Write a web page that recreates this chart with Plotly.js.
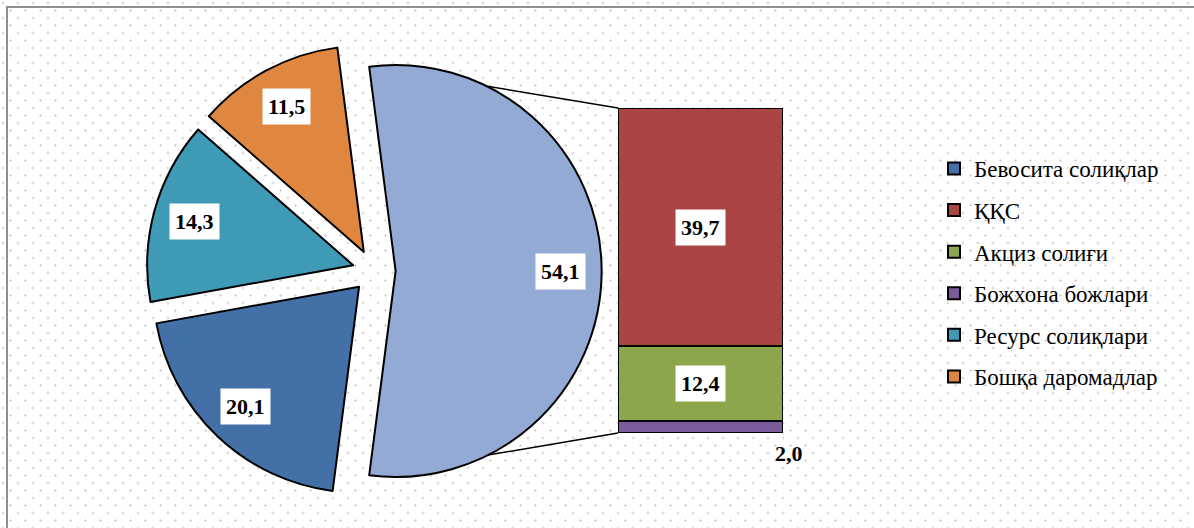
<!DOCTYPE html>
<html><head><meta charset="utf-8">
<script src="https://cdn.plot.ly/plotly-3.0.1.min.js"></script>
<style>
html,body{margin:0;padding:0;background:#fff;}
#chart{width:1194px;height:528px;background-color:#fff;
background-image:radial-gradient(circle,#cdcdcd 0.9px,transparent 1.4px),radial-gradient(circle,#cdcdcd 0.9px,transparent 1.4px);
background-size:15px 15px,15px 15px;background-position:3px 3px,10.5px 10.5px;}
</style></head>
<body><div id="chart"></div>
<script>
// ---- data ----
const pieCategories = ["Бевосита солиқлар", "Ресурс солиқлари", "Бошқа даромадлар"];
const pieValues = [20.1, 14.3, 11.5];
const otherLabel = "Эгри солиқлар";
const barCategories = ["ҚҚС", "Акциз солиғи", "Божхона божлари"];
const barValues = [39.7, 12.4, 2.0];
const legendOrder = ["Бевосита солиқлар", "ҚҚС", "Акциз солиғи", "Божхона божлари", "Ресурс солиқлари", "Бошқа даромадлар"];

// ---- styles ----
const colors = {
  "Эгри солиқлар": "#93AAD5",
  "Бевосита солиқлар": "#4470A8",
  "Ресурс солиқлари": "#3E9AB5",
  "Бошқа даромадлар": "#DF8641",
  "ҚҚС": "#AB4543",
  "Акциз солиғи": "#8CA74B",
  "Божхона божлари": "#7A5C9C"
};
const W = 1194, H = 528;
const SERIF = "Liberation Serif";
const pieCX = 374, pieCY = 271, pieR = 206, pullFrac = 0.105, labelFrac = 0.8;
const barBox = {left: 618, right: 783, top: 108, bottom: 433};

const fmt = v => v.toFixed(1).replace('.', ',');
const otherValue = barValues.reduce((a, b) => a + b, 0);
const allPieLabels = [otherLabel].concat(pieCategories);
const allPieValues = [otherValue].concat(pieValues);
const pieTotal = allPieValues.reduce((a, b) => a + b, 0);
const rotation = 90 - (otherValue / pieTotal) * 180;

const half = pieR * (1 + pullFrac);
const pieDomain = {
  x: [(pieCX - half) / W, (pieCX + half) / W],
  y: [(H - pieCY - half) / H, (H - pieCY + half) / H]
};

const traces = [];
traces.push({
  type: 'pie', labels: allPieLabels, values: allPieValues, sort: false,
  direction: 'clockwise', rotation: rotation, domain: pieDomain,
  pull: allPieValues.map(() => pullFrac),
  marker: {colors: allPieLabels.map(l => colors[l]), line: {color: '#000', width: 2}},
  textinfo: 'none', hoverinfo: 'label+value', showlegend: false
});

// stacked bar: first trace at bottom
const barStackOrder = barCategories.slice().reverse();
barStackOrder.forEach(name => {
  const v = barValues[barCategories.indexOf(name)];
  traces.push({
    type: 'bar', x: [otherLabel], y: [v], name: name,
    marker: {color: colors[name], line: {color: '#000', width: 2}},
    legendrank: legendOrder.indexOf(name) + 1, legendgroup: name,
    hoverinfo: 'name+y', xaxis: 'x', yaxis: 'y'
  });
});
// legend entries for pie categories
pieCategories.forEach(name => {
  traces.push({
    type: 'bar', x: [null], y: [null], name: name,
    marker: {color: colors[name], line: {color: '#000', width: 2}},
    legendrank: legendOrder.indexOf(name) + 1, legendgroup: name,
    hoverinfo: 'skip', xaxis: 'x', yaxis: 'y'
  });
});

const annotations = [];
const labelFont = {family: SERIF, size: 22, color: '#000'};
// pie labels
let cum = 0;
allPieValues.forEach((v, i) => {
  const start = rotation + cum / pieTotal * 360;
  const mid = (start + v / pieTotal * 180) * Math.PI / 180;
  cum += v;
  const d = (pullFrac + labelFrac) * pieR;
  const px = pieCX + d * Math.sin(mid), py = pieCY - d * Math.cos(mid);
  annotations.push({
    xref: 'paper', yref: 'paper', x: px / W, y: 1 - py / H,
    xanchor: 'center', yanchor: 'middle',
    text: '<b>' + fmt(v) + '</b>', showarrow: false, font: labelFont,
    bgcolor: '#fff', borderpad: 5
  });
});
// bar labels
let base = 0;
barStackOrder.forEach(name => {
  const v = barValues[barCategories.indexOf(name)];
  if (v / otherValue < 0.05) {
    annotations.push({
      xref: 'x domain', yref: 'y', x: 1, y: base, xanchor: 'center', yanchor: 'top',
      xshift: 6, yshift: -6, text: '<b>' + fmt(v) + '</b>', showarrow: false, font: labelFont
    });
  } else {
    annotations.push({
      xref: 'x', yref: 'y', x: otherLabel, y: base + v / 2,
      xanchor: 'center', yanchor: 'middle',
      text: '<b>' + fmt(v) + '</b>', showarrow: false, font: labelFont,
      bgcolor: '#fff', borderpad: 5
    });
  }
  base += v;
});

// connector lines from the "other" slice corners to the bar
const vx = pieCX + pullFrac * pieR, vy = pieCY;
const rotRad = rotation * Math.PI / 180;
const cTop = [vx + pieR * Math.sin(rotRad), vy - pieR * Math.cos(rotRad)];
const cBot = [vx + pieR * Math.sin(Math.PI - rotRad), vy - pieR * Math.cos(Math.PI - rotRad)];
const shapes = [
  {type: 'rect', xref: 'paper', yref: 'paper', x0: 7 / W, x1: 1.05, y0: -0.05, y1: 1 - 7 / H,
   line: {color: '#8f8f8f', width: 2}, fillcolor: 'rgba(0,0,0,0)', layer: 'below'},
  {type: 'line', xref: 'paper', yref: 'paper', x0: cTop[0] / W, y0: 1 - cTop[1] / H,
   x1: barBox.left / W, y1: 1 - barBox.top / H, line: {color: '#000', width: 1.5}, layer: 'below'},
  {type: 'line', xref: 'paper', yref: 'paper', x0: cBot[0] / W, y0: 1 - cBot[1] / H,
   x1: barBox.left / W, y1: 1 - barBox.bottom / H, line: {color: '#000', width: 1.5}, layer: 'below'}
];

const layout = {
  width: W, height: H, margin: {l: 0, r: 0, t: 0, b: 0},
  paper_bgcolor: 'rgba(0,0,0,0)', plot_bgcolor: 'rgba(0,0,0,0)',
  font: {family: SERIF},
  barmode: 'stack', bargap: 0,
  xaxis: {domain: [barBox.left / W, barBox.right / W], type: 'category', range: [-0.5, 0.5],
    visible: false, fixedrange: true},
  yaxis: {domain: [(H - barBox.bottom) / H, (H - barBox.top) / H], range: [0, otherValue],
    visible: false, fixedrange: true},
  showlegend: true,
  legend: {x: 934 / W, y: 1 - 147 / H, xanchor: 'left', yanchor: 'top',
    font: {family: SERIF, size: 23, color: '#000'}, traceorder: 'grouped',
    tracegroupgap: 8.7, bgcolor: 'rgba(0,0,0,0)'},
  annotations: annotations, shapes: shapes
};

Plotly.newPlot('chart', traces, layout, {displayModeBar: false, staticPlot: true});
</script>
</body></html>
